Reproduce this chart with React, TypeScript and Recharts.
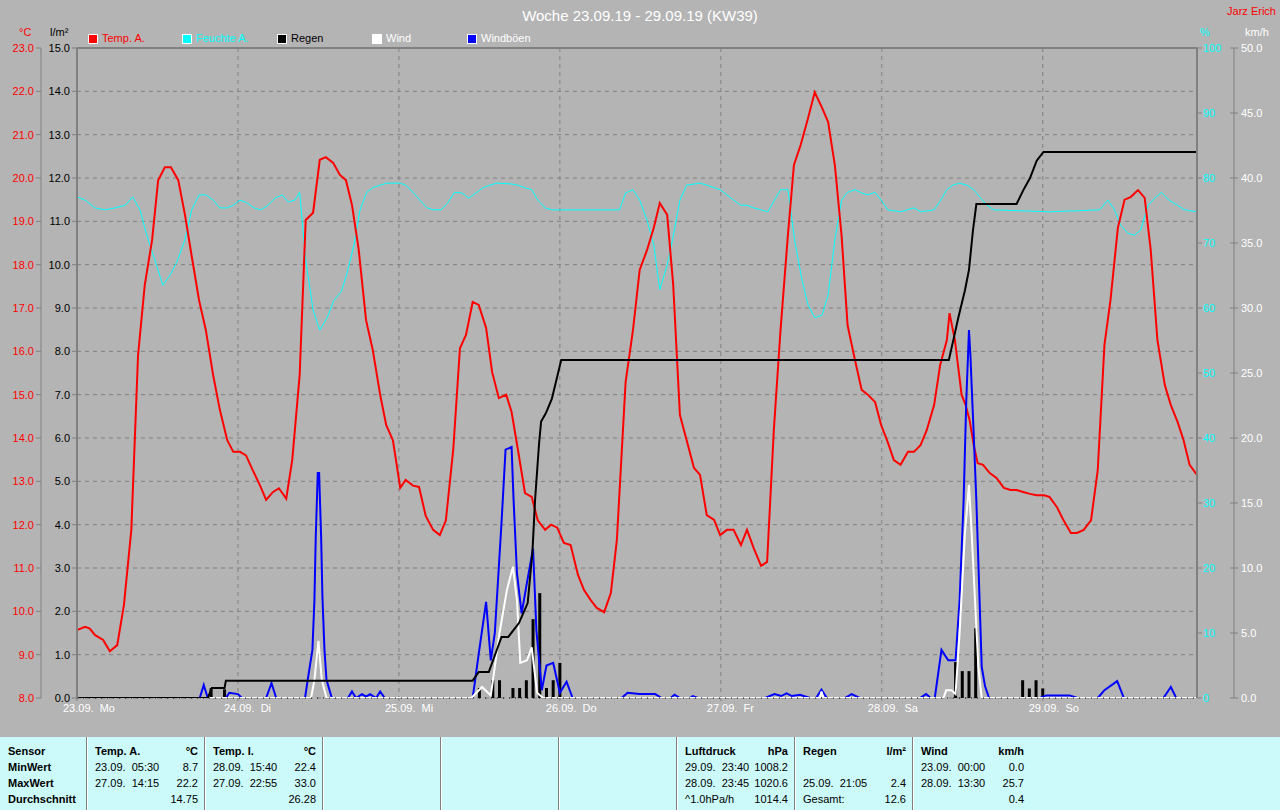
import React from 'react';
import { ComposedChart, Line, Bar, XAxis, YAxis, CartesianGrid, ReferenceLine } from 'recharts';

const FONT = "'Liberation Sans', Arial, sans-serif";
const BG = '#b4b4b4';
const GRID = '#808080';

// x axis: hours since 23.09. 00:00
const DAY_TICKS = [0, 24, 48, 72, 96, 120, 144];
const DAY_LABELS = ['23.09.  Mo', '24.09.  Di', '25.09.  Mi', '26.09.  Do', '27.09.  Fr', '28.09.  Sa', '29.09.  So'];

const TEMP_TICKS = [8, 9, 10, 11, 12, 13, 14, 15, 16, 17, 18, 19, 20, 21, 22, 23];
const RAIN_TICKS = [0, 1, 2, 3, 4, 5, 6, 7, 8, 9, 10, 11, 12, 13, 14, 15];
const HUM_TICKS = [0, 10, 20, 30, 40, 50, 60, 70, 80, 90, 100];
const WIND_TICKS = [0, 5, 10, 15, 20, 25, 30, 35, 40, 45, 50];

// [hour, °C]
const tempA: [number, number][] = [
  [0, 9.57], [1.2, 9.64], [1.9, 9.6], [2.7, 9.45], [3.9, 9.34], [4.9, 9.08], [6.0, 9.22], [7.0, 10.15],
  [8.1, 11.88], [9.1, 15.9], [10.1, 17.53], [11.2, 18.57], [12.1, 19.95], [13.1, 20.25], [14.0, 20.25],
  [15.1, 19.95], [16.1, 19.15], [17.1, 18.2], [18.2, 17.18], [19.2, 16.5], [20.3, 15.45], [21.3, 14.65],
  [22.4, 13.95], [23.3, 13.68], [24.3, 13.68], [25.2, 13.6], [26.2, 13.26], [27.3, 12.9], [28.2, 12.57],
  [29.2, 12.75], [30.1, 12.84], [31.2, 12.6], [32.1, 13.5], [33.2, 15.45], [34.1, 19.03], [35.2, 19.2],
  [36.2, 20.42], [37.1, 20.48], [38.2, 20.35], [39.2, 20.07], [40.1, 19.95], [41.0, 19.38], [42.0, 18.35],
  [43.1, 16.72], [44.1, 16.03], [45.2, 15.0], [46.1, 14.3], [47.1, 13.95], [48.2, 12.85], [49.0, 13.03],
  [50.1, 12.9], [51.0, 12.87], [52.0, 12.2], [53.1, 11.88], [54.1, 11.76], [55.0, 12.1], [56.1, 13.73],
  [57.1, 16.07], [58.0, 16.38], [59.0, 17.14], [59.9, 17.07], [61.0, 16.54], [61.9, 15.52], [62.9, 14.92],
  [64.0, 15.0], [64.8, 14.6], [65.7, 13.77], [66.8, 12.73], [67.8, 12.64], [68.7, 12.1], [69.8, 11.88],
  [70.7, 12.0], [71.6, 11.93], [72.6, 11.58], [73.6, 11.53], [74.7, 10.84], [75.6, 10.49], [76.6, 10.26],
  [77.5, 10.08], [78.6, 9.98], [79.6, 10.42], [80.5, 11.65], [81.8, 15.29], [82.9, 16.49], [83.9, 17.88],
  [85.0, 18.34], [86.0, 18.85], [86.9, 19.42], [88.0, 19.15], [88.9, 17.53], [89.9, 14.53], [90.9, 13.95],
  [92.0, 13.31], [92.9, 13.15], [93.9, 12.22], [95.0, 12.11], [95.9, 11.76], [96.9, 11.88], [97.9, 11.88],
  [99.0, 11.53], [99.9, 11.88], [100.9, 11.46], [102.0, 11.05], [102.9, 11.14], [103.9, 14.18], [104.9, 16.49],
  [106.0, 18.68], [106.9, 20.3], [107.9, 20.76], [109.0, 21.38], [110.0, 21.98], [111.1, 21.62], [112.0, 21.29],
  [113.0, 20.3], [114.0, 18.68], [114.9, 16.6], [116.0, 15.8], [117.0, 15.11], [117.9, 15.0], [119.0, 14.83],
  [119.9, 14.3], [120.9, 13.9], [121.8, 13.49], [122.8, 13.38], [123.9, 13.68], [124.8, 13.68], [125.8, 13.84],
  [126.7, 14.18], [127.8, 14.76], [128.7, 15.68], [129.7, 16.26], [130.1, 16.88], [130.9, 16.26], [131.9, 15.0],
  [132.5, 14.76], [133.1, 14.41], [133.7, 13.84], [134.3, 13.42], [135.1, 13.38], [136.1, 13.19], [137.1, 13.08],
  [138.2, 12.85], [139.2, 12.8], [140.1, 12.8], [141.2, 12.75], [142.1, 12.71], [143.1, 12.68], [144.2, 12.68],
  [145.0, 12.64], [146.1, 12.41], [147.1, 12.1], [148.2, 11.81], [149.1, 11.81], [150.1, 11.88], [151.2, 12.1],
  [152.2, 13.26], [153.2, 16.15], [154.1, 17.18], [155.2, 18.85], [156.2, 19.5], [157.1, 19.56], [158.2, 19.72],
  [159.2, 19.54], [160.1, 18.34], [161.1, 16.26], [162.2, 15.22], [163.1, 14.76], [164.1, 14.37], [165.0, 13.95],
  [165.9, 13.38], [167.0, 13.15],
];

// [hour, %]
const feuchteA: [number, number][] = [
  [0, 77.1], [1.2, 76.6], [2.7, 75.4], [4.2, 75.1], [5.7, 75.4], [7.2, 75.8], [8.3, 77.1], [9.4, 75.1],
  [10.4, 71.2], [11.6, 67.4], [12.8, 63.5], [13.9, 65.1], [14.9, 67.1], [16.1, 70.5], [17.1, 75.1],
  [18.2, 77.4], [19.2, 77.4], [20.3, 76.6], [21.3, 75.4], [22.4, 75.4], [23.3, 75.8], [24.3, 76.6],
  [25.3, 76.2], [26.4, 75.4], [27.4, 75.1], [28.5, 75.8], [29.5, 76.9], [30.6, 77.4], [31.5, 76.3],
  [32.5, 76.6], [33.2, 77.8], [34.1, 67.4], [35.2, 59.7], [36.2, 56.6], [37.3, 58.5], [38.3, 61.2],
  [39.4, 62.5], [40.2, 65.1], [41.3, 69.7], [42.2, 75.1], [43.2, 77.8], [44.1, 78.5], [45.2, 78.9],
  [46.2, 79.2], [48.2, 79.2], [49.0, 78.9], [50.1, 77.8], [51.1, 76.6], [52.2, 75.4], [53.2, 75.1],
  [54.3, 75.1], [55.3, 76.2], [56.3, 77.8], [57.4, 77.7], [58.4, 76.9], [59.5, 77.7], [60.5, 78.5],
  [61.6, 78.9], [62.6, 79.2], [64.7, 79.1], [65.7, 78.9], [66.8, 78.5], [67.8, 78.2], [68.7, 76.6],
  [69.8, 75.4], [70.8, 75.1], [80.9, 75.1], [81.8, 77.7], [82.9, 78.2], [83.9, 76.6], [85.0, 73.5],
  [86.0, 69.7], [86.9, 62.8], [88.0, 66.6], [88.8, 70.5], [89.9, 76.6], [90.9, 78.9], [92.9, 79.2],
  [93.9, 78.9], [95.0, 78.5], [95.9, 78.2], [96.9, 77.4], [97.9, 76.6], [99.0, 75.8], [99.9, 75.8],
  [100.9, 75.4], [102.0, 75.1], [103.0, 74.8], [104.0, 76.6], [104.9, 78.2], [106.0, 78.2], [107.0, 70.5],
  [108.1, 64.3], [109.0, 60.5], [110.0, 58.5], [111.1, 58.9], [112.0, 62.0], [113.0, 70.5], [114.0, 76.6],
  [114.9, 77.8], [116.0, 78.2], [117.0, 77.7], [117.9, 77.4], [119.0, 77.8], [119.9, 76.6], [120.9, 75.1],
  [122.8, 74.8], [124.8, 75.4], [125.8, 74.8], [127.8, 75.1], [128.8, 76.6], [129.7, 78.2], [130.6, 78.9],
  [131.6, 79.2], [132.7, 78.9], [133.7, 78.2], [134.6, 77.1], [135.7, 75.8], [136.7, 75.1], [145.0, 74.8],
  [152.5, 75.1], [153.7, 76.6], [154.7, 75.1], [155.6, 72.8], [156.7, 71.5], [157.7, 71.2], [158.6, 72.0],
  [159.7, 75.8], [160.7, 76.9], [161.7, 77.8], [162.8, 76.6], [164.1, 75.8], [165.2, 75.1], [167.0, 74.8],
];

// [hour, l/m² cumulated]
const regenSumme: [number, number][] = [
  [0, 0], [19.5, 0], [20.1, 0.23], [22.0, 0.23], [22.2, 0.4], [59.0, 0.4], [59.9, 0.6], [61.4, 0.6],
  [63.3, 1.41], [64.3, 1.41], [65.9, 1.73], [67.2, 2.19], [67.9, 3.35], [68.3, 4.57], [68.9, 5.88],
  [69.2, 6.38], [69.9, 6.57], [70.8, 6.9], [72.2, 7.8], [130.0, 7.8], [130.9, 8.42], [131.4, 8.77],
  [132.4, 9.41], [133.0, 9.88], [133.6, 10.8], [134.1, 11.4], [140.1, 11.4], [141.1, 11.72], [142.1, 12.0],
  [143.1, 12.4], [144.1, 12.6], [167.0, 12.6],
];

// [hour, l/m² per hour]
const regenStunde: [number, number][] = [
  [20, 0.23], [22, 0.2], [60, 0.23], [62, 0.41], [63, 0.41], [65, 0.23], [66, 0.23], [67, 0.41],
  [68, 1.82], [69, 2.42], [70, 0.23], [71, 0.41], [72, 0.81], [131, 0.83], [132, 0.62], [133, 0.62],
  [134, 1.61], [141, 0.41], [142, 0.22], [143, 0.41], [144, 0.22],
];

// [hour, km/h]
const wind: [number, number][] = [
  [0, 0], [34.9, 0], [35.4, 1.4], [36.0, 4.4], [36.5, 1.4], [37.2, 0], [58.8, 0], [60.4, 0.85], [61.7, 0.2],
  [63.0, 5.0], [64.1, 8.3], [65.0, 10.1], [65.6, 7.5], [66.1, 2.7], [67.1, 2.9], [67.8, 3.9], [68.6, 0.4],
  [69.5, 0], [110.8, 0], [111.0, 0.5], [111.3, 0], [129.2, 0], [129.6, 0.6], [130.4, 0.6], [131.0, 0.3],
  [131.6, 5.0], [132.4, 12.7], [133.0, 16.4], [133.4, 12.7], [133.9, 7.5], [134.4, 2.4], [134.9, 0], [167, 0],
];

// [hour, km/h]
const windBoeen: [number, number][] = [
  [0, 0], [18.3, 0], [18.9, 1.0], [19.5, 0], [22.2, 0], [22.7, 0.4], [24.0, 0.3], [24.6, 0], [28.2, 0],
  [29.0, 1.15], [29.7, 0], [34.0, 0], [34.4, 1.4], [35.1, 3.7], [35.4, 7.5], [35.6, 12.4], [35.9, 17.3],
  [36.1, 17.3], [36.4, 12.4], [36.6, 7.7], [36.9, 3.7], [37.2, 1.4], [38.0, 0], [40.4, 0], [41.0, 0.5],
  [41.6, 0], [42.5, 0.3], [43.1, 0.1], [43.7, 0.3], [44.6, 0], [45.2, 0.5], [45.9, 0], [59.0, 0], [59.9, 3.4],
  [61.0, 7.4], [61.7, 2.9], [62.3, 5.0], [63.3, 13.5], [63.9, 19.1], [64.8, 19.3], [65.1, 15.2], [65.6, 9.6],
  [66.3, 6.5], [67.0, 8.6], [68.0, 11.5], [68.5, 5.2], [69.3, 0.6], [70.0, 2.5], [71.0, 2.7], [72.0, 0.4],
  [73.0, 1.25], [73.9, 0], [81.2, 0], [82.1, 0.4], [83.9, 0.3], [86.2, 0.3], [87.2, 0], [88.5, 0], [89.1, 0.25],
  [89.9, 0], [91.4, 0], [91.8, 0.15], [92.6, 0], [102.6, 0], [104.0, 0.3], [105.0, 0.15], [105.8, 0.35],
  [106.6, 0.15], [107.8, 0.25], [109.3, 0], [110.2, 0], [111.0, 0.65], [111.8, 0], [114.5, 0], [115.5, 0.3],
  [116.7, 0], [125.7, 0], [126.6, 0.3], [127.3, 0], [127.9, 0], [128.9, 3.7], [129.9, 2.9], [131.0, 2.9],
  [131.6, 7.5], [132.2, 15.2], [132.6, 22.9], [133.0, 28.3], [133.2, 26.5], [133.6, 21.6], [134.1, 15.2],
  [134.5, 8.8], [134.9, 2.4], [135.4, 0.9], [136.0, 0], [143.6, 0], [144.5, 0.2], [148.0, 0.2], [149.2, 0],
  [152.2, 0], [153.2, 0.6], [155.1, 1.3], [156.1, 0], [162.0, 0], [163.1, 0.85], [163.9, 0], [167, 0],
];

const LEGEND = [
  { label: 'Temp. A.', color: '#ff0000', text: '#ff0000', x: 88 },
  { label: 'Feuchte A.', color: '#00ffff', text: '#00ffff', x: 182 },
  { label: 'Regen', color: '#000000', text: '#000000', x: 277 },
  { label: 'Wind', color: '#ffffff', text: '#ffffff', x: 372 },
  { label: 'Windböen', color: '#0000ff', text: '#ffffff', x: 467 },
];

const ROW_LABELS = ['Sensor', 'MinWert', 'MaxWert', 'Durchschnitt'];
const TABLE_COLS: ({ name: string; unit: string; rows: [string, string][] } | null)[] = [
  { name: 'Temp. A.', unit: '°C', rows: [['23.09.  05:30', '8.7'], ['27.09.  14:15', '22.2'], ['', '14.75']] },
  { name: 'Temp. I.', unit: '°C', rows: [['28.09.  15:40', '22.4'], ['27.09.  22:55', '33.0'], ['', '26.28']] },
  null,
  null,
  null,
  { name: 'Luftdruck', unit: 'hPa', rows: [['29.09.  23:40', '1008.2'], ['28.09.  23:45', '1020.6'], ['^1.0hPa/h', '1014.4']] },
  { name: 'Regen', unit: 'l/m²', rows: [['', ''], ['25.09.  21:05', '2.4'], ['Gesamt:', '12.6']] },
  { name: 'Wind', unit: 'km/h', rows: [['23.09.  00:00', '0.0'], ['28.09.  13:30', '25.7'], ['', '0.4']] },
];

type Row = { h: number; [k: string]: number };

function buildRows(): Row[] {
  const map = new Map<number, Row>();
  const add = (pts: [number, number][], key: string) =>
    pts.forEach(([h, v]) => {
      const r = map.get(h) ?? { h };
      r[key] = v;
      map.set(h, r);
    });
  add(tempA, 'temp');
  add(feuchteA, 'hum');
  add(regenSumme, 'rainSum');
  add(regenStunde, 'rain');
  add(wind, 'wind');
  add(windBoeen, 'gust');
  return [...map.values()].sort((a, b) => a.h - b.h);
}

const rows = buildRows();

const DayTick = (p: any) => {
  const i = DAY_TICKS.indexOf(p.payload.value);
  return (
    <text x={p.x - 14} y={p.y + 9} fill="#ffffff" fontSize={11} fontFamily={FONT} style={{ whiteSpace: 'pre' }}>
      {DAY_LABELS[i]}
    </text>
  );
};

const HumTick = (p: any) => {
  const ax = p.x - 8;
  return (
    <g>
      <line x1={ax} x2={ax + 5} y1={p.y} y2={p.y} stroke={GRID} />
      <text x={ax + 6} y={p.y} dy="0.35em" fill="#00ffff" fontSize={11} fontFamily={FONT}>
        {p.payload.value}
      </text>
    </g>
  );
};

const WindTick = (p: any) => {
  const ax = p.x - 7;
  return (
    <g>
      <line x1={ax - 4} x2={ax + 4} y1={p.y} y2={p.y} stroke={GRID} />
      <text x={ax + 7} y={p.y} dy="0.35em" fill="#ffffff" fontSize={11} fontFamily={FONT}>
        {p.payload.value.toFixed(1)}
      </text>
    </g>
  );
};

// hourly rain: fixed 3px column centred on the bar's slot
const RainBar = (p: any) => {
  if (!p.height || p.height <= 0) return null;
  return <rect x={p.x + p.width / 2 - 1.5} y={p.y} width={3} height={p.height} fill="#000000" />;
};

const txt = (s: React.CSSProperties): React.CSSProperties => ({
  position: 'absolute', fontFamily: FONT, fontSize: 11, lineHeight: '12px', whiteSpace: 'pre', ...s,
});

export default function App() {
  return (
    <div style={{ position: 'absolute', left: 0, top: 0, width: 1280, height: 810, background: BG, overflow: 'hidden' }}>
      <ComposedChart width={1280} height={720} data={rows} margin={{ top: 48, right: 0, bottom: 0, left: 0 }}>
        <CartesianGrid yAxisId="temp" stroke={GRID} strokeDasharray="4 4" />
        <XAxis
          dataKey="h"
          type="number"
          domain={[0, 167]}
          ticks={DAY_TICKS}
          allowDataOverflow
          height={22}
          tick={DayTick}
          tickSize={3}
          tickLine={{ stroke: GRID }}
          axisLine={false}
        />
        <YAxis
          yAxisId="rain"
          orientation="left"
          width={36}
          domain={[0, 15]}
          ticks={RAIN_TICKS}
          tickFormatter={(v: number) => v.toFixed(1)}
          tick={{ fill: '#000000', fontSize: 11, fontFamily: FONT }}
          tickSize={5}
          tickLine={{ stroke: GRID }}
          axisLine={{ stroke: GRID, strokeWidth: 2 }}
          allowDataOverflow
        />
        <YAxis
          yAxisId="temp"
          orientation="left"
          width={41}
          domain={[8, 23]}
          ticks={TEMP_TICKS}
          tickFormatter={(v: number) => v.toFixed(1)}
          tick={{ fill: '#ff0000', fontSize: 11, fontFamily: FONT }}
          tickSize={5}
          tickLine={{ stroke: GRID }}
          axisLine={{ stroke: GRID }}
          allowDataOverflow
        />
        <YAxis
          yAxisId="hum"
          orientation="right"
          width={37}
          domain={[0, 100]}
          ticks={HUM_TICKS}
          tick={HumTick}
          tickSize={6}
          tickMargin={2}
          tickLine={false}
          axisLine={{ stroke: GRID, strokeWidth: 2 }}
          allowDataOverflow
        />
        <YAxis
          yAxisId="wind"
          orientation="right"
          width={46}
          domain={[0, 50]}
          ticks={WIND_TICKS}
          tick={WindTick}
          tickSize={4}
          tickMargin={3}
          tickLine={false}
          axisLine={{ stroke: GRID }}
          allowDataOverflow
        />
        <YAxis
          yAxisId="inner"
          orientation="right"
          mirror
          width={0}
          domain={[0, 15]}
          ticks={RAIN_TICKS}
          tick={false}
          tickSize={4}
          tickLine={{ stroke: GRID }}
          axisLine={false}
        />
        <ReferenceLine yAxisId="rain" y={15} stroke={GRID} strokeWidth={2} />
        <Line yAxisId="hum" dataKey="hum" type="linear" stroke="#00ffff" strokeWidth={1} dot={false} connectNulls isAnimationActive={false} />
        <Line yAxisId="temp" dataKey="temp" type="linear" stroke="#ff0000" strokeWidth={2} dot={false} connectNulls isAnimationActive={false} />
        <Line yAxisId="wind" dataKey="gust" type="linear" stroke="#0000ff" strokeWidth={2} dot={false} connectNulls isAnimationActive={false} />
        <Line yAxisId="wind" dataKey="wind" type="linear" stroke="#ffffff" strokeWidth={2} dot={false} connectNulls isAnimationActive={false} />
        <Line yAxisId="rain" dataKey="rainSum" type="linear" stroke="#000000" strokeWidth={2} dot={false} connectNulls isAnimationActive={false} />
        <Bar yAxisId="rain" dataKey="rain" fill="#000000" shape={RainBar} isAnimationActive={false} />
        <ReferenceLine yAxisId="rain" y={0} stroke="#000000" strokeDasharray="1 5" />
      </ComposedChart>

      <div style={txt({ left: 0, width: 1280, top: 7, textAlign: 'center', fontSize: 15, lineHeight: '17px', color: '#ffffff' })}>
        Woche 23.09.19 - 29.09.19 (KW39)
      </div>
      <div style={txt({ right: 4, top: 5, color: '#ff0000' })}>Jarz Erich</div>

      <div style={txt({ left: 19, top: 26, color: '#ff0000' })}>°C</div>
      <div style={txt({ left: 50, top: 26, color: '#000000' })}>l/m²</div>
      <div style={txt({ left: 1200, top: 26, color: '#00ffff' })}>%</div>
      <div style={txt({ left: 1245, top: 26, color: '#ffffff' })}>km/h</div>

      {LEGEND.map((l) => (
        <React.Fragment key={l.label}>
          <div style={{ position: 'absolute', left: l.x, top: 34, width: 8, height: 8, background: l.color, border: '1px solid #ffffff' }} />
          <div style={txt({ left: l.x + 14, top: 32, color: l.text })}>{l.label}</div>
        </React.Fragment>
      ))}

      <div style={{ position: 'absolute', left: 0, top: 737, width: 1280, height: 73, background: '#ccf9f9' }}>
        {ROW_LABELS.map((r, i) => (
          <div key={r} style={txt({ left: 8, top: 8 + i * 16, fontWeight: 'bold', color: '#000' })}>{r}</div>
        ))}
        {TABLE_COLS.map((c, ci) => {
          const left = 86 + ci * 118;
          return (
            <React.Fragment key={ci}>
              <div style={{ position: 'absolute', left, top: 0, width: 1, height: 73, background: GRID }} />
              <div style={{ position: 'absolute', left: left + 1, top: 0, width: 1, height: 73, background: '#ffffff' }} />
              {c && (
                <>
                  <div style={txt({ left: left + 9, top: 8, fontWeight: 'bold', color: '#000' })}>{c.name}</div>
                  <div style={txt({ left, width: 112, top: 8, textAlign: 'right', fontWeight: 'bold', color: '#000' })}>{c.unit}</div>
                  {c.rows.map((r, ri) => (
                    <React.Fragment key={ri}>
                      <div style={txt({ left: left + 9, top: 24 + ri * 16, color: '#000' })}>{r[0]}</div>
                      <div style={txt({ left, width: 112, top: 24 + ri * 16, textAlign: 'right', color: '#000' })}>{r[1]}</div>
                    </React.Fragment>
                  ))}
                </>
              )}
            </React.Fragment>
          );
        })}
      </div>
    </div>
  );
}
